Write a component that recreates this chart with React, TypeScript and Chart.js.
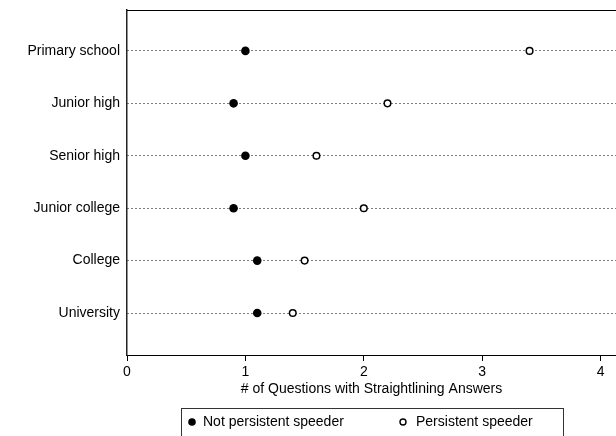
import React, { useEffect, useRef } from "react";
import { Chart, registerables } from "chart.js";

Chart.register(...registerables);

const categories = [
  "Primary school",
  "Junior high",
  "Senior high",
  "Junior college",
  "College",
  "University",
];
const notPersistent = [1.0, 0.9, 1.0, 0.9, 1.1, 1.1];
const persistent = [3.4, 2.2, 1.6, 2.0, 1.5, 1.4];
const xTicks = [0, 1, 2, 3, 4];
const seriesLabels = ["Not persistent speeder", "Persistent speeder"];
const xTitle = "# of Questions with Straightlining Answers";

const FONT = "'Liberation Sans', Arial, Helvetica, sans-serif";

const frameAndLegend = {
  id: "frameAndLegend",
  afterDraw(chart: any) {
    const { ctx, chartArea } = chart;
    ctx.save();
    // top frame line
    ctx.strokeStyle = "#000";
    ctx.lineWidth = 1;
    ctx.beginPath();
    ctx.moveTo(chartArea.left, chartArea.top + 0.5);
    ctx.lineTo(chartArea.right, chartArea.top + 0.5);
    ctx.stroke();

    // legend box
    const bx = 181.5;
    const by = 408.5;
    const bw = 382;
    const bh = 40;
    ctx.strokeStyle = "#333";
    ctx.lineWidth = 1;
    ctx.strokeRect(bx, by, bw, bh);

    const cy = 422;
    ctx.font = `14px ${FONT}`;
    ctx.textBaseline = "middle";
    ctx.textAlign = "left";
    const ds = chart.data.datasets;
    // item 1: filled
    ctx.beginPath();
    ctx.arc(192, cy, 3.8, 0, Math.PI * 2);
    ctx.fillStyle = "#000";
    ctx.fill();
    ctx.fillText(ds[0].label, 203, cy);
    // item 2: hollow
    ctx.beginPath();
    ctx.arc(403, cy, 3, 0, Math.PI * 2);
    ctx.fillStyle = "#fff";
    ctx.fill();
    ctx.lineWidth = 1.4;
    ctx.strokeStyle = "#000";
    ctx.stroke();
    ctx.fillStyle = "#000";
    ctx.fillText(ds[1].label, 416, cy);
    ctx.restore();
  },
};

export default function App() {
  const ref = useRef<HTMLCanvasElement | null>(null);

  useEffect(() => {
    if (!ref.current) return;
    Chart.defaults.font.family = FONT;
    const chart = new Chart(ref.current, {
      type: "scatter",
      data: {
        datasets: [
          {
            label: seriesLabels[0],
            data: notPersistent.map((v, i) => ({ x: v, y: i })),
            pointRadius: 4.3,
            pointBackgroundColor: "#000",
            pointBorderColor: "#000",
            pointBorderWidth: 0,
            showLine: false,
          },
          {
            label: seriesLabels[1],
            data: persistent.map((v, i) => ({ x: v, y: i })),
            pointRadius: 3.3,
            pointBackgroundColor: "#fff",
            pointBorderColor: "#000",
            pointBorderWidth: 1.5,
            showLine: false,
          },
        ],
      },
      plugins: [frameAndLegend],
      options: {
        animation: false,
        responsive: true,
        maintainAspectRatio: false,
        layout: { autoPadding: false, padding: { top: 10, left: 0, right: 0, bottom: 0 } },
        plugins: {
          legend: { display: false },
          tooltip: { enabled: false },
        },
        scales: {
          x: {
            type: "linear",
            position: "bottom",
            min: 0,
            max: 4.13,
            afterBuildTicks: (scale: any) => {
              scale.ticks = xTicks.map((v) => ({ value: v }));
            },
            afterFit: (scale: any) => {
              scale.height = 81;
              scale.paddingLeft = 0;
              scale.paddingRight = 0;
            },
            ticks: {
              color: "#000",
              font: { size: 14 },
              padding: 3,
              maxRotation: 0,
              autoSkip: false,
            },
            grid: {
              drawOnChartArea: false,
              drawTicks: true,
              tickLength: 6,
              color: "#000",
              lineWidth: 1,
            },
            border: { display: true, color: "#000", width: 1 },
            title: {
              display: true,
              text: xTitle,
              color: "#000",
              font: { size: 14 },
              padding: { top: 0, bottom: 38 },
            },
          },
          y: {
            type: "linear",
            reverse: true,
            min: -0.78,
            max: 5.8,
            afterBuildTicks: (scale: any) => {
              scale.ticks = categories.map((_, i) => ({ value: i }));
            },
            afterFit: (scale: any) => {
              scale.width = 127;
              scale.paddingTop = 0;
              scale.paddingBottom = 0;
            },
            ticks: {
              color: "#000",
              font: { size: 14 },
              padding: 7,
              autoSkip: false,
              callback: (v: any) => categories[v as number] ?? "",
            },
            grid: {
              drawTicks: false,
              color: "#000",
              lineWidth: 1,
            },
            border: { display: true, color: "#222", width: 1.5, dash: [1, 3] },
          },
        },
      },
    } as any);
    return () => chart.destroy();
  }, []);

  return (
    <div style={{ position: "absolute", left: 0, top: 0, width: 616, height: 436 }}>
      <canvas ref={ref} />
    </div>
  );
}
